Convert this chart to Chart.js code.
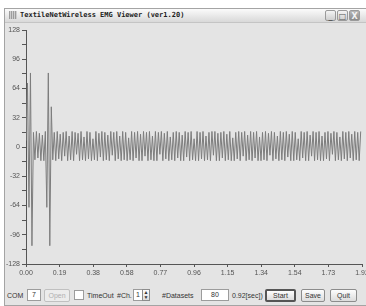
<!DOCTYPE html>
<html>
<head>
<meta charset="utf-8">
<script src="https://cdn.jsdelivr.net/npm/chart.js@4.4.1/dist/chart.umd.min.js"></script>
<style>
html, body { margin: 0; padding: 0; width: 366px; height: 306px; overflow: hidden; background: #fff; font-family: "Liberation Sans", Arial, sans-serif; }
#win { position: absolute; left: 4px; top: 8px; width: 380px; height: 296px; background: #e4e4e4; border: 1px solid #a4a4a4; }
#titlebar { position: absolute; left: 5px; top: 9px; width: 380px; height: 13px; background: linear-gradient(#fbfbfb, #e6e6e6 60%, #d9d9d9); border-bottom: 1px solid #c4c4c4; }
#icon { position: absolute; left: 9px; top: 11px; width: 8px; height: 8px; background: repeating-linear-gradient(90deg, #8a8a8a 0 1px, #c8c8c8 1px 2px), #999; opacity: .8; }
#title { position: absolute; left: 20px; top: 10px; font: bold 7px "DejaVu Sans Mono", monospace; color: #222; line-height: 11px; white-space: nowrap; }
.tb { position: absolute; top: 10px; width: 11px; height: 11px; border: 1px solid #9a9a9a; border-radius: 2px; background: linear-gradient(#f4f4f4, #cfcfcf); font: bold 8px "DejaVu Sans", sans-serif; color: #555; text-align: center; line-height: 11px; box-sizing: border-box; }
#bclose { background: linear-gradient(#b8b8b8, #8a8a8a); color: #f4f4f4; }
#chart { position: absolute; left: 0; top: 22px; }
.lbl { position: absolute; font-size: 7px; color: #333; white-space: nowrap; line-height: 9px; }
.box { position: absolute; height: 12px; background: #fff; border: 1px solid #9c9c9c; box-sizing: border-box; font-size: 7px; color: #333; text-align: center; line-height: 10px; }
.btn { position: absolute; height: 13px; border: 1px solid #8c8c8c; border-radius: 2px; box-sizing: border-box; background: linear-gradient(#fdfdfd, #dcdcdc); font-size: 7px; color: #333; text-align: center; line-height: 11px; }
</style>
</head>
<body>
<div id="win"></div>
<div id="titlebar"></div>
<div id="icon"></div>
<div id="title">TextileNetWireless EMG Viewer (ver1.20)</div>
<div class="tb" style="left:325px">_</div>
<div class="tb" style="left:337px">□</div>
<div class="tb" id="bclose" style="left:349px">X</div>

<canvas id="chart" width="385" height="262"></canvas>

<div class="lbl" style="left:7px;top:291px">COM</div>
<div class="box" style="left:27px;top:289px;width:14px">7</div>
<div class="btn" style="left:44px;top:289px;width:26px;color:#b0b0b0;border-color:#c0c0c0;background:#ececec">Open</div>
<div class="box" style="left:74px;top:290px;width:10px;height:10px"></div>
<div class="lbl" style="left:87px;top:291px">TimeOut</div>
<div class="lbl" style="left:117px;top:291px">#Ch.</div>
<div class="box" style="left:133px;top:289px;width:9px;border-right:none">1</div>
<div class="btn" style="left:142px;top:289px;width:8px;height:12px;font-size:5px;line-height:5px;border-radius:0">▲<br>▼</div>
<div class="lbl" style="left:162px;top:291px">#Datasets</div>
<div class="box" style="left:201px;top:289px;width:28px">80</div>
<div class="lbl" style="left:232px;top:291px">0.92[sec])</div>
<div class="btn" style="left:265px;top:289px;width:31px;border:2px solid #555;line-height:9px">Start</div>
<div class="btn" style="left:301px;top:289px;width:24px">Save</div>
<div class="btn" style="left:330px;top:289px;width:27px">Quit</div>

<script>
// EMG channel 1, time axis in seconds
const sampleStart = 0;
const samplePeriod = 0.0085;

const emgValues = [
    7, 70, -66, 81, -108, 16, -14, 17, -12, 15, -15, 13, -15, 17, -66, 81, -108, 44, -14, 16,
    -15, 17, -13, 14, -15, 16, -10, 17, -15, 12, -14, 17, -15, 16, -8, 15,
    -15, 17, -14, 11, -15, 17, -13, 16, -15, 9, -14, 17, -15, 15, -11, 17,
    -15, 16, -14, 13, -15, 17, -9, 16, -15, 17, -13, 12, -15, 17, -14, 16,
    -15, 10, -14, 17, -15, 16, -12, 17, -15, 14, -15, 17, -10, 16, -15, 17,
    -14, 12, -15, 17, -15, 16, -8, 17, -15, 15, -13, 17, -15, 11, -14, 16,
    -15, 17, -12, 16, -15, 13, -15, 17, -11, 16, -15, 17, -14, 9, -15, 17,
    -15, 16, -13, 17, -15, 12, -14, 16, -15, 17, -9, 17, -15, 15, -15, 16,
    -12, 17, -15, 14, -14, 17, -15, 10, -15, 16, -13, 17, -15, 16, -10, 17,
    -15, 13, -14, 17, -15, 16, -12, 17, -15, 11, -15, 16, -14, 17, -15, 15,
    -9, 17, -15, 16, -13, 12, -15, 17, -14, 16, -15, 17, -11, 14, -15, 17,
    -15, 16, -14, 9, -15, 17, -12, 16, -15, 17, -15, 13, -10, 17, -15, 16,
    -14, 17, -15, 12, -15, 16, -13, 17, -15, 15, -8, 17, -15, 16, -14, 11,
    -15, 17, -13, 16, -15, 17, -12, 14, -15, 17, -14, 16, -15, 17
];

const xTickValues = [0, 0.192, 0.384, 0.576, 0.768, 0.96, 1.152, 1.344, 1.536, 1.728, 1.92];
const xTickLabels = ['0.00', '0.19', '0.38', '0.58', '0.77', '0.96', '1.15', '1.34', '1.54', '1.73', '1.92'];
const yTickValues = [-128, -112, -96, -80, -64, -48, -32, -16, 0, 16, 32, 48, 64, 80, 96, 112, 128];
const yTickLabels = ['-128', '', '-96', '', '-64', '', '-32', '', '0', '', '32', '', '64', '', '96', '', '128'];

const points = emgValues.map((v, i) => ({ x: sampleStart + i * samplePeriod, y: v }));

const tickFont = { family: '"Liberation Sans", Arial, sans-serif', size: 7 };
const axisColor = '#555';

new Chart(document.getElementById('chart'), {
    type: 'line',
    data: {
        datasets: [{
            data: points,
            borderColor: '#7c7c7c',
            borderWidth: 1,
            pointRadius: 0,
            tension: 0,
            fill: false
        }]
    },
    options: {
        responsive: false,
        animation: false,
        devicePixelRatio: 1,
        layout: { padding: { top: 8, right: 23, bottom: 4, left: 0 } },
        plugins: { legend: { display: false }, tooltip: { enabled: false } },
        scales: {
            x: {
                type: 'linear',
                min: 0,
                max: 1.92,
                afterBuildTicks: s => { s.ticks = xTickValues.map(v => ({ value: v })); },
                afterFit: s => { s.height = 16; },
                border: { color: axisColor, width: 1 },
                grid: { drawOnChartArea: false, tickLength: 3, color: axisColor },
                ticks: { font: tickFont, color: '#555', padding: 2, maxRotation: 0, autoSkip: false,
                         callback: (v, i) => xTickLabels[i] }
            },
            y: {
                type: 'linear',
                min: -128,
                max: 128,
                afterBuildTicks: s => { s.ticks = yTickValues.map(v => ({ value: v })); },
                afterFit: s => { s.width = 26; },
                border: { color: axisColor, width: 1 },
                grid: { drawOnChartArea: false, tickLength: 4, color: axisColor },
                ticks: { font: tickFont, color: '#555', padding: 2, autoSkip: false,
                         callback: (v, i) => yTickLabels[i] }
            }
        }
    }
});
</script>
</body>
</html>
